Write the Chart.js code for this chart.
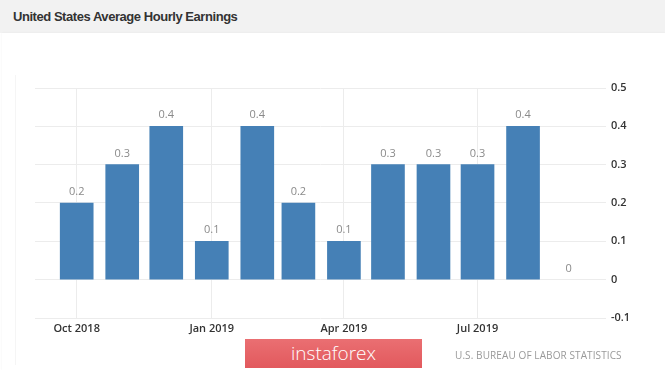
<!DOCTYPE html>
<html>
<head>
<meta charset="utf-8">
<script src="https://cdn.jsdelivr.net/npm/chart.js@4/dist/chart.umd.min.js"></script>
<style>
  html, body { margin:0; padding:0; width:665px; height:370px; overflow:hidden; background:#ffffff; }
  #band { position:absolute; left:0; top:0; width:665px; height:33px; background:#f2f2f2; }
  #title { position:absolute; left:13px; top:8px; font-family:"Liberation Sans", Arial, sans-serif; font-weight:bold; font-size:13px; letter-spacing:-0.45px; color:#333; white-space:nowrap; line-height:18px; }
  #panel { position:absolute; left:2px; top:33px; width:663px; height:337px; background:#fff; box-shadow:0 0 2px rgba(0,0,0,0.06); }
  #vline { position:absolute; left:15px; top:75px; width:1px; height:290px; background:#f5f5f5; }
  #wrap { position:absolute; left:0; top:0; width:665px; height:370px; }
  #logo { position:absolute; left:245px; top:339px; width:177px; height:29px; background:linear-gradient(#ea6f72,#e2595d); color:#fff; font-family:"Open Sans", sans-serif; font-weight:300; font-size:19px; line-height:28px; text-align:center; }
  #src { position:absolute; left:455px; top:348px; font-family:"Open Sans", sans-serif; font-size:10px; letter-spacing:0.1px; color:#999; white-space:nowrap; line-height:14px; }
</style>
</head>
<body>
<div id="band"></div>
<div id="title">United States Average Hourly Earnings</div>
<div id="panel"></div>
<div id="vline"></div>
<div id="wrap"><canvas id="c" width="665" height="370"></canvas></div>
<div id="logo">instaforex</div>
<div id="src">U.S. BUREAU OF LABOR STATISTICS</div>
<script>
// ---- data ----
const months = ['2018-10','2018-11','2018-12','2019-01','2019-02','2019-03','2019-04','2019-05','2019-06','2019-07','2019-08','2019-09'];
const values = [0.2, 0.3, 0.4, 0.1, 0.4, 0.2, 0.1, 0.3, 0.3, 0.3, 0.4, 0];
const xTickMonths = ['2018-10','2019-01','2019-04','2019-07'];
const xTickLabels = ['Oct 2018','Jan 2019','Apr 2019','Jul 2019'];
const yTicks = [-0.1, 0, 0.1, 0.2, 0.3, 0.4, 0.5];

// ---- helpers: months -> days since first month ----
function dayOf(m) {
  const [y, mo] = m.split('-').map(Number);
  const [y0, m0] = months[0].split('-').map(Number);
  return (Date.UTC(y, mo - 1, 1) - Date.UTC(y0, m0 - 1, 1)) / 86400000;
}
const points = months.map((m, i) => ({ x: dayOf(m), y: values[i] }));
const xTickDays = xTickMonths.map(dayOf);

const valueLabels = {
  id: 'valueLabels',
  afterDatasetsDraw(chart) {
    const ctx = chart.ctx;
    const meta = chart.getDatasetMeta(0);
    ctx.save();
    ctx.font = '11px "Open Sans", sans-serif';
    ctx.fillStyle = '#8a8a8a';
    ctx.textAlign = 'center';
    ctx.textBaseline = 'middle';
    meta.data.forEach((el, i) => {
      ctx.fillText(String(values[i]), el.x, el.y - 11);
    });
    ctx.restore();
  }
};

new Chart(document.getElementById('c'), {
  type: 'bar',
  data: {
    datasets: [{
      data: points,
      backgroundColor: (c) => (c.raw && c.raw.y === 0) ? 'rgba(0,0,0,0)' : '#4580b6',
      borderWidth: 0,
      barThickness: 33
    }]
  },
  options: {
    responsive: false,
    animation: false,
    events: [],
    layout: { padding: { left: 35, top: 88, right: 0, bottom: 30 } },
    plugins: { legend: { display: false }, tooltip: { enabled: false } },
    scales: {
      x: {
        type: 'linear',
        offset: false,
        min: -28.4,
        max: 360.5,
        afterBuildTicks(scale) { scale.ticks = xTickDays.map(v => ({ value: v })); },
        afterFit(scale) { scale.height = 22; },
        ticks: {
          autoSkip: false,
          maxRotation: 0,
          padding: 4,
          color: '#333',
          font: { family: '"Open Sans", sans-serif', size: 11, weight: '600' },
          callback(v) { const i = xTickDays.indexOf(v); return i >= 0 ? xTickLabels[i] : ''; }
        },
        grid: { color: '#ececec', drawTicks: false, offset: false },
        border: { display: false }
      },
      y: {
        position: 'right',
        min: -0.1,
        max: 0.5,
        afterBuildTicks(scale) { scale.ticks = yTicks.map(v => ({ value: v })); },
        afterFit(scale) { scale.width = 59; },
        ticks: {
          padding: 5,
          color: '#333',
          font: { family: '"Open Sans", sans-serif', size: 11, weight: '600' },
          callback(v) { return String(Number(v.toFixed(1))); }
        },
        grid: { color: '#ececec', drawTicks: false },
        border: { display: false }
      }
    }
  },
  plugins: [valueLabels]
});
</script>
</body>
</html>
